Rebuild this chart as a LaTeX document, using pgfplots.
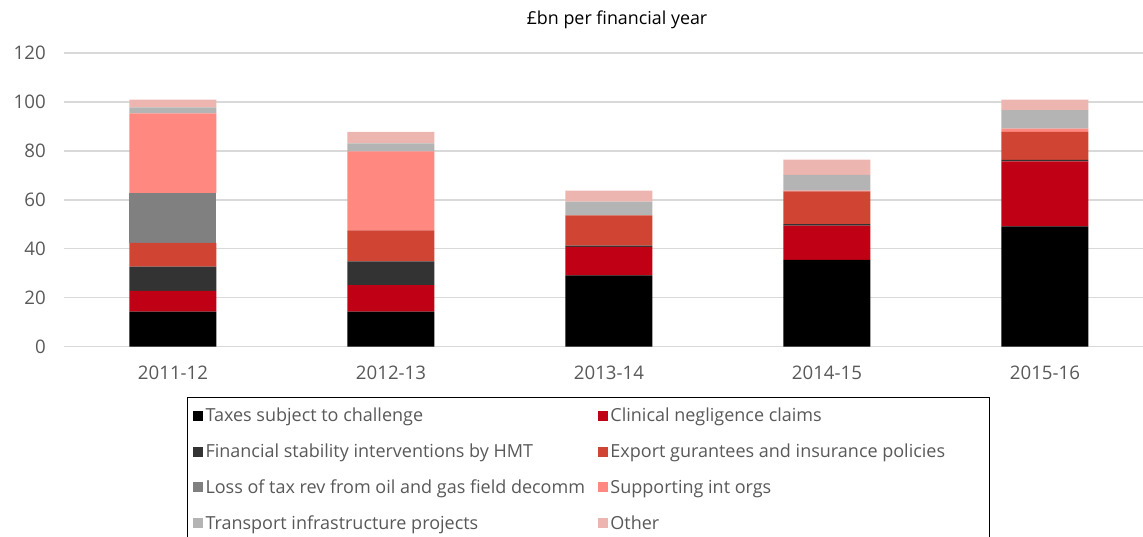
\documentclass[border=0pt]{standalone}
\usepackage{fontspec}
\setmainfont{Open Sans}
\usepackage{pgfplots}
\pgfplotsset{compat=1.18}
\definecolor{cTax}{HTML}{000000}
\definecolor{cClin}{HTML}{C00014}
\definecolor{cFin}{HTML}{333333}
\definecolor{cExp}{HTML}{D04433}
\definecolor{cLoss}{HTML}{808080}
\definecolor{cSup}{HTML}{FF8880}
\definecolor{cTra}{HTML}{B4B4B4}
\definecolor{cOth}{HTML}{EDB5AF}
\definecolor{gridgray}{HTML}{D9D9D9}
\definecolor{tickgray}{HTML}{595959}
\begin{document}
\begin{tikzpicture}
\begin{axis}[
  at={(0pt,0pt)}, anchor=south west,
  scale only axis, width=809.3pt, height=220.3pt,
  xmin=-0.5, xmax=4.45, ymin=0, ymax=120,
  enlargelimits=false,
  ybar stacked, bar width=65.25pt,
  axis line style={draw=none},
  tick style={draw=none},
  ymajorgrids, grid style={color=gridgray, line width=1.1pt},
  ytick={0,20,40,60,80,100,120},
  xtick={0,1,2,3,4},
  xticklabels={2011-12,2012-13,2013-14,2014-15,2015-16},
  /pgf/number format/assume math mode=true,
  tick label style={font=\fontsize{14}{16}\selectfont, text=tickgray},
  yticklabel style={inner sep=0pt, anchor=east, xshift=-13.5pt},
  xticklabel style={inner sep=0pt, anchor=north, yshift=-14pt},
  legend columns=2,
  legend cell align=left,
  legend image code/.code={\fill[#1] (0pt,-3.6pt) rectangle (7.5pt,3.9pt);},
  legend style={at={(0.114,-0.171)}, anchor=north west,
    draw=black, line width=0.75pt,
    font=\fontsize{13.5}{15}\selectfont, text=tickgray,
    row sep=11.1pt, inner xsep=4pt, inner ysep=6pt,
    nodes={inner xsep=2pt, inner ysep=2pt},
    /tikz/column 2/.style={column sep=7.5pt}},
]
\addplot[fill=cTax, draw=none] coordinates {(0,14.3) (1,14.3) (2,29.1) (3,35.5) (4,49.1)};
\addlegendentry{Taxes subject to challenge}
\addplot[fill=cClin, draw=none] coordinates {(0,8.5) (1,10.8) (2,11.7) (3,14.0) (4,26.6)};
\addlegendentry{Clinical negligence claims}
\addplot[fill=cFin, draw=none] coordinates {(0,9.9) (1,9.7) (2,0.5) (3,0.6) (4,0.6)};
\addlegendentry{Financial stability interventions by HMT}
\addplot[fill=cExp, draw=none] coordinates {(0,9.7) (1,12.7) (2,12.3) (3,13.3) (4,11.4)};
\addlegendentry{Export gurantees and insurance policies\hspace*{27pt}}
\addplot[fill=cLoss, draw=none] coordinates {(0,20.4) (1,0) (2,0) (3,0) (4,0)};
\addlegendentry{Loss of tax rev from oil and gas field decomm}
\addplot[fill=cSup, draw=none] coordinates {(0,32.5) (1,32.3) (2,0) (3,0.4) (4,1.4)};
\addlegendentry{Supporting int orgs}
\addplot[fill=cTra, draw=none] coordinates {(0,2.5) (1,3.3) (2,5.7) (3,6.4) (4,7.5)};
\addlegendentry{Transport infrastructure projects}
\addplot[fill=cOth, draw=none] coordinates {(0,3.1) (1,4.7) (2,4.4) (3,6.2) (4,4.3)};
\addlegendentry{Other}
\end{axis}
\node[font=\fontsize{13.4}{15}\selectfont, text=black] at (414.75pt,245pt) {£bn per financial year};
\pgfresetboundingbox
\path (-48pt,-142pt) rectangle (809.25pt,260pt);
\end{tikzpicture}
\end{document}
